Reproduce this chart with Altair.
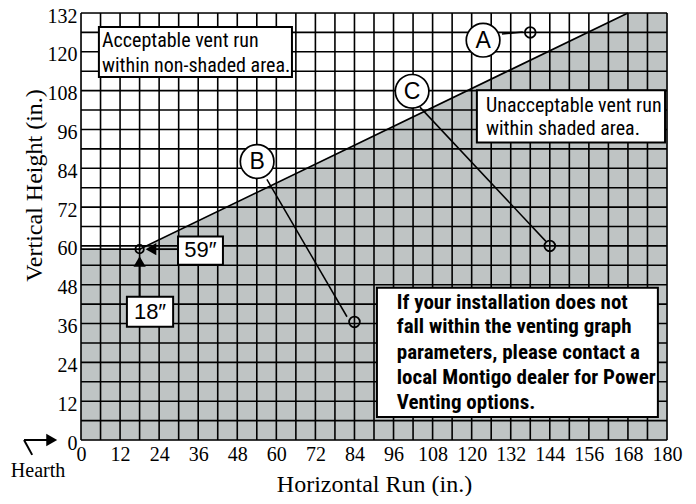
import altair as alt
import pandas as pd

# ---- data ----
grid_x = list(range(0, 181, 6))
grid_y = list(range(0, 133, 6))
x_ticks = list(range(0, 181, 12))
y_ticks = list(range(0, 133, 12))

# shaded (unacceptable) region boundary
bound_x = [0, 18, 168, 180]
bound_y = [59, 59, 132, 132]

# example points A, B, C
pt_names = ["A", "B", "C"]
pt_x = [138, 84, 144]
pt_y = [126, 36.5, 60]
lab_x = [123.5, 54.1, 101.7]
lab_y = [123.6, 86.1, 107.8]
lead_x1 = [129.3, 57.1, 104.1]
lead_y1 = [125.5, 80.6, 102.9]
lead_x2 = [135.7, 81.7, 142.8]
lead_y2 = [126.1, 38.1, 61.4]

# minimum point (18", 59")
min_x = [18]
min_y = [59]

# annotation boxes
box_x1 = [5.5, 121.6, 90.9, 29.8, 14.1]
box_x2 = [64.8, 179.4, 177.2, 43.6, 28.3]
box_y1 = [127.7, 108.1, 47.1, 62.9, 44.3]
box_y2 = [112.2, 92.0, 7.1, 54.2, 35.0]

# annotation text lines
note_text = ["Acceptable vent run", "within non-shaded area.",
             "Unacceptable vent run", "within shaded area."]
note_x = [6.45, 6.45, 124.4, 124.4]
note_y = [123.3, 115.6, 103.2, 96.1]

bold_text = ["If your installation does not", "fall within the venting graph",
             "parameters, please contact a", "local Montigo dealer for Power",
             "Venting options."]
bold_x = [97.0, 97.0, 97.0, 97.0, 97.0]
bold_y = [42.4, 34.8, 26.9, 19.1, 11.4]

dim_text = ["59\u2033", "18\u2033"]
dim_x = [36.7, 21.2]
dim_y = [58.6, 39.7]

# arrows for dimension boxes
arrow_x1 = [29.8, 18]
arrow_y1 = [59, 44.3]
arrow_x2 = [21.5, 18]
arrow_y2 = [59, 55.2]
head_x = [21.5, 18]
head_y = [59, 55.2]
head_shape = ["triangle-left", "triangle-up"]

# hearth arrow
hearth_x1 = [-15.0, -17.5]
hearth_y1 = [-4.6, 0]
hearth_x2 = [-17.5, -9.0]
hearth_y2 = [0, 0]

SANS = "Liberation Sans Narrow, Roboto Condensed, Roboto, Liberation Sans, sans-serif"
SERIF = "Liberation Serif, Times New Roman, serif"

xs = alt.Scale(domain=[0, 180], nice=False, zero=False)
ys = alt.Scale(domain=[0, 132], nice=False, zero=False)

xaxis = alt.Axis(values=x_ticks, grid=False, ticks=False, domain=False,
                 labelFont=SERIF, labelFontSize=20, labelColor="black",
                 labelPadding=4, labelFlush=False,
                 title="Horizontal Run (in.)", titleFont=SERIF, titleFontSize=24,
                 titleFontWeight="normal", titleColor="black",
                 titleY=51, titleBaseline="alphabetic")
yaxis = alt.Axis(values=y_ticks, grid=False, ticks=False, domain=False,
                 labelFont=SERIF, labelFontSize=20, labelColor="black",
                 labelPadding=4, labelFlush=False, labelOffset=3,
                 title="Vertical Height (in.)", titleFont=SERIF, titleFontSize=24,
                 titleFontWeight="normal", titleColor="black",
                 titleAngle=270, titleX=-40, titleY=172, titleAlign="center",
                 titleBaseline="alphabetic")


def X(f):
    return alt.X(f, type="quantitative", scale=xs, axis=xaxis)


def Y(f):
    return alt.Y(f, type="quantitative", scale=ys, axis=yaxis)


df_bound = pd.DataFrame({"x": bound_x, "y": bound_y})
shade = alt.Chart(df_bound).mark_area(color="#bfc4c4", opacity=1).encode(
    x=X("x"), y=Y("y"), y2=alt.datum(0))

GRID_W = 1.6
df_gx = pd.DataFrame({"x": grid_x})
vgrid = alt.Chart(df_gx).mark_rule(color="black", strokeWidth=GRID_W).encode(
    x=X("x"), y=alt.Y(datum=0, scale=ys, axis=yaxis), y2=alt.datum(132))
df_gy = pd.DataFrame({"y": grid_y})
hgrid = alt.Chart(df_gy).mark_rule(color="black", strokeWidth=GRID_W).encode(
    y=Y("y"), x=alt.X(datum=0, scale=xs, axis=xaxis), x2=alt.datum(180))

bline = alt.Chart(df_bound.iloc[:3]).mark_line(color="black", strokeWidth=1.7).encode(
    x=X("x"), y=Y("y"))

df_lead = pd.DataFrame({"x1": lead_x1, "y1": lead_y1, "x2": lead_x2, "y2": lead_y2})
leaders = alt.Chart(df_lead).mark_rule(color="black", strokeWidth=1.5).encode(
    x=X("x1"), y=Y("y1"), x2="x2", y2="y2")

df_pts = pd.DataFrame({"x": pt_x, "y": pt_y, "lx": lab_x, "ly": lab_y, "n": pt_names})
pts = alt.Chart(df_pts).mark_point(shape="circle", size=115, color="black",
                                   strokeWidth=1.8, filled=False, opacity=1).encode(
    x=X("x"), y=Y("y"))
lab_circ = alt.Chart(df_pts).mark_point(shape="circle", size=1130, fill="white",
                                        stroke="black", strokeWidth=1.7,
                                        filled=True, opacity=1).encode(
    x=X("lx"), y=Y("ly"))
lab_txt = alt.Chart(df_pts).mark_text(font="Liberation Sans, sans-serif", fontSize=23,
                                      color="black", baseline="middle",
                                      align="center", dy=1).encode(
    x=X("lx"), y=Y("ly"), text="n")

df_box = pd.DataFrame({"x1": box_x1, "x2": box_x2, "y1": box_y1, "y2": box_y2})
boxes = alt.Chart(df_box).mark_rect(fill="white", stroke="black", strokeWidth=2).encode(
    x=X("x1"), x2="x2", y=Y("y1"), y2="y2")

df_note = pd.DataFrame({"t": note_text, "x": note_x, "y": note_y})
notes = alt.Chart(df_note).mark_text(font=SANS, fontSize=20, color="black",
                                     align="left", baseline="middle").encode(
    x=X("x"), y=Y("y"), text="t")

df_bold = pd.DataFrame({"t": bold_text, "x": bold_x, "y": bold_y})
bold = alt.Chart(df_bold).mark_text(font=SANS, fontSize=21, fontWeight="bold",
                                    color="black", align="left",
                                    baseline="middle").encode(
    x=X("x"), y=Y("y"), text="t")

df_dim = pd.DataFrame({"t": dim_text, "x": dim_x, "y": dim_y})
dims = alt.Chart(df_dim).mark_text(font="Liberation Sans, sans-serif", fontSize=22,
                                   color="black", align="center",
                                   baseline="middle").encode(
    x=X("x"), y=Y("y"), text="t")

df_arr = pd.DataFrame({"x1": arrow_x1, "y1": arrow_y1, "x2": arrow_x2, "y2": arrow_y2,
                       "hx": head_x, "hy": head_y, "s": head_shape})
arr = alt.Chart(df_arr).mark_rule(color="black", strokeWidth=1.8).encode(
    x=X("x1"), y=Y("y1"), x2="x2", y2="y2")
heads = alt.Chart(df_arr).mark_point(filled=True, color="black", size=150,
                                     opacity=1).encode(
    x=X("hx"), y=Y("hy"),
    shape=alt.Shape("s:N", scale=None, legend=None))

df_min = pd.DataFrame({"x": min_x, "y": min_y})
min_ring = alt.Chart(df_min).mark_point(shape="circle", size=70, color="black",
                                        strokeWidth=1.8, filled=False, opacity=1).encode(
    x=X("x"), y=Y("y"))
min_dot = alt.Chart(df_min).mark_point(shape="circle", size=8, color="black",
                                       filled=True, opacity=1).encode(
    x=X("x"), y=Y("y"))

df_h = pd.DataFrame({"x1": hearth_x1, "y1": hearth_y1, "x2": hearth_x2, "y2": hearth_y2})
hearth = alt.Chart(df_h).mark_rule(color="black", strokeWidth=2).encode(
    x=X("x1"), y=Y("y1"), x2="x2", y2="y2")
hearth_head = alt.Chart(pd.DataFrame({"x": [-9.0], "y": [0]})).mark_point(
    shape="triangle-right", filled=True, color="black", size=160, opacity=1).encode(
    x=X("x"), y=Y("y"))
hearth_txt = alt.Chart(pd.DataFrame({"t": ["Hearth"], "x": [-13.2], "y": [-9.6]})).mark_text(
    font=SERIF, fontSize=20, color="black", align="center", baseline="middle").encode(
    x=X("x"), y=Y("y"), text="t")

chart = alt.layer(
    shade, vgrid, hgrid, bline, leaders, pts, lab_circ, lab_txt, boxes, notes, bold,
    arr, heads, dims, min_ring, min_dot, hearth, hearth_head, hearth_txt
).properties(
    width=586, height=427,
    autosize=alt.AutoSizeParams(type="none"),
    padding={"left": 73, "top": 5, "right": 21, "bottom": 56},
).configure_view(stroke=None).configure(background="white")

chart.save("out.html", embed_options={"renderer": "svg", "actions": False})
